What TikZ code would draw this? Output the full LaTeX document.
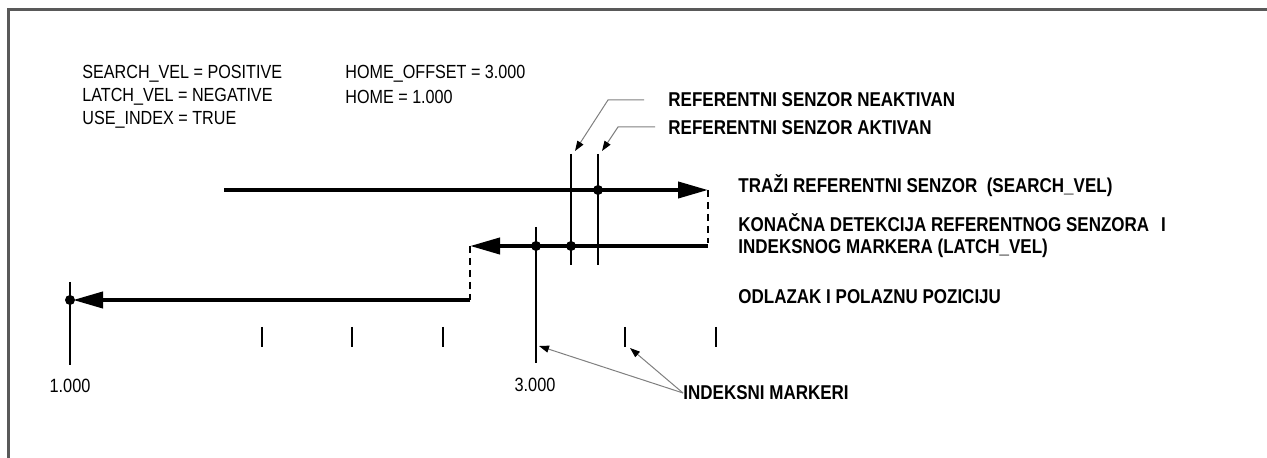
\documentclass[tikz,border=0pt]{standalone}
\usepackage{fontspec}
\setmainfont{Liberation Sans}
\newfontfamily\condf[FakeStretch=0.85]{Liberation Sans}
\usetikzlibrary{arrows.meta}
\begin{document}
\begin{tikzpicture}[x=0.5pt,y=-0.5pt,
  lbl/.style={anchor=west,inner sep=0pt,font=\condf\fontsize{9.5}{11}\selectfont},
  blbl/.style={anchor=west,inner sep=0pt,font=\condf\fontsize{10}{12}\selectfont\bfseries},
  num/.style={anchor=center,inner sep=0pt,font=\condf\fontsize{9.6}{11}\selectfont},
  path/.style={line width=2pt,-{Triangle[length=15pt,width=8pt]}},
  plain/.style={line width=2pt},
  dsh/.style={line width=1pt,dash pattern=on 3.5pt off 2.5pt},
  vline/.style={line width=0.75pt},
  tick/.style={line width=0.9pt},
  dotm/.style={circle,fill,inner sep=0pt,minimum size=5pt},
  leader/.style={gray,line width=0.5pt,-{Triangle[length=5pt,width=3.5pt,black]}},
  frame/.style={gray!70!black,line width=1.5pt}]
\useasboundingbox (0,0) rectangle (1267,458);
\fill[white] (0,0) rectangle (1267,458);
% frame
\coordinate (f1) at (8,458); \coordinate (f2) at (8,10); \coordinate (f3) at (1267,10);
\draw[frame] (f1) -- (f2) -- (f3);
% parameter text
\node[lbl] (t1) at (82,74) {SEARCH\_VEL = POSITIVE};
\node[lbl] (t2) at (82,97) {LATCH\_VEL = NEGATIVE};
\node[lbl] (t3) at (82,120) {USE\_INDEX = TRUE};
\node[lbl] (t4) at (345,74) {HOME\_OFFSET = 3.000};
\node[lbl] (t5) at (345,97) {HOME = 1.000};
% right labels
\node[blbl] (rn) at (668,100) {REFERENTNI SENZOR NEAKTIVAN};
\node[blbl] (ra) at (668,128) {REFERENTNI SENZOR AKTIVAN};
\node[blbl] (ls) at (738,186) {TRAŽI REFERENTNI SENZOR \ (SEARCH\_VEL)};
\node[blbl] (ll1) at (738,223) {KONAČNA DETEKCIJA REFERENTNOG SENZORA\hspace{6pt}I};
\node[blbl] (ll2) at (738,248) {INDEKSNOG MARKERA (LATCH\_VEL)};
\node[blbl] (lh) at (738,297) {ODLAZAK I POLAZNU POZICIJU};
\node[blbl] (im) at (683,393) {INDEKSNI MARKERI};
\node[num] (n1) at (70,386) {1.000};
\node[num] (n3) at (535,385) {3.000};
% coordinates
\coordinate (s0) at (224,190); \coordinate (s1) at (708,190);
\coordinate (d1) at (708,243); \coordinate (l0) at (708,246); \coordinate (l1) at (470,246);
\coordinate (d2) at (470,300); \coordinate (h0) at (470,300); \coordinate (h1) at (73,300);
% sensor verticals
\coordinate (va0) at (571,154); \coordinate (va1) at (571,265);
\coordinate (vb0) at (598,154); \coordinate (vb1) at (598,265);
\coordinate (vc0) at (536,227); \coordinate (vc1) at (536,363);
\coordinate (vh0) at (70,282); \coordinate (vh1) at (70,365);
\draw[vline] (va0) -- (va1);
\draw[vline] (vb0) -- (vb1);
\draw[vline] (vc0) -- (vc1);
\draw[vline] (vh0) -- (vh1);
% moves
\draw[path] (s0) -- (s1);
\draw[dsh] (s1) -- (d1);
\draw[path] (l0) -- (l1);
\draw[dsh] (l1) -- (d2);
\draw[path] (h0) -- (h1);
% dots
\node[dotm] (p1) at (598,190) {};
\node[dotm] (p2) at (571,246) {};
\node[dotm] (p3) at (536,246) {};
\node[dotm] (p4) at (70,300) {};
% ticks
\foreach \x [count=\i] in {262,352,443,625,716}{
  \coordinate (k\i a) at (\x,327); \coordinate (k\i b) at (\x,347);
  \draw[tick] (k\i a) -- (k\i b);
}
% leaders for sensor labels
\coordinate (q1) at (644,100); \coordinate (q2) at (608,100); \coordinate (q3) at (575,151);
\draw[leader] (q1) -- (q2) -- (q3);
\coordinate (r1) at (655,127); \coordinate (r2) at (618,127); \coordinate (r3) at (602,151);
\draw[leader] (r1) -- (r2) -- (r3);
% index marker leaders
\coordinate (m1) at (539,346); \coordinate (m2) at (630,348);
\draw[leader] (im.west) -- (m1);
\draw[leader] (im.west) -- (m2);
\end{tikzpicture}
\end{document}
